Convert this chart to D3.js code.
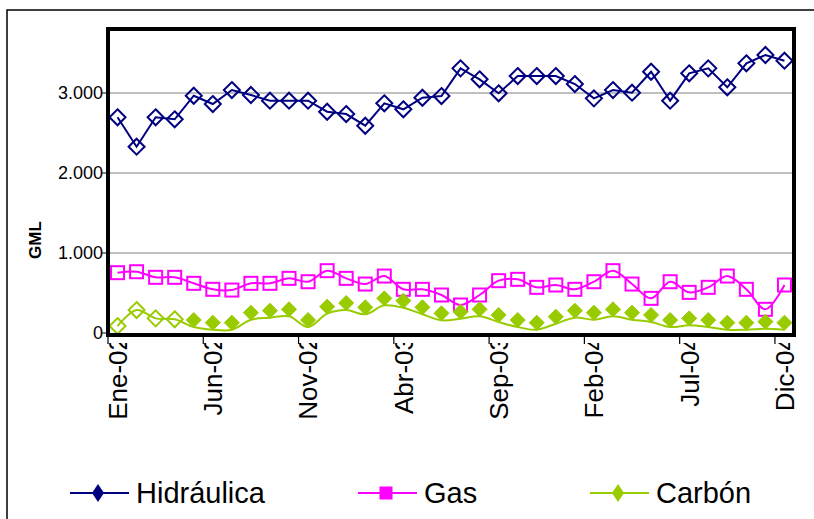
<!DOCTYPE html>
<html>
<head>
<meta charset="utf-8">
<script src="https://d3js.org/d3.v7.min.js"></script>
<style>
  body { margin: 0; background: #fff; }
  svg { display: block; font-family: "Liberation Sans", Arial, sans-serif; }
</style>
</head>
<body>
<div id="chart"></div>
<script>

var months = ["Ene-02","Feb-02","Mar-02","Abr-02","May-02","Jun-02","Jul-02","Ago-02","Sep-02","Oct-02","Nov-02","Dic-02",
              "Ene-03","Feb-03","Mar-03","Abr-03","May-03","Jun-03","Jul-03","Ago-03","Sep-03","Oct-03","Nov-03","Dic-03",
              "Ene-04","Feb-04","Mar-04","Abr-04","May-04","Jun-04","Jul-04","Ago-04","Sep-04","Oct-04","Nov-04","Dic-04"];

var hidraulica = [2696, 2329, 2696, 2671, 2966, 2862, 3037, 2975, 2904, 2904, 2904, 2766,
                  2737, 2591, 2871, 2796, 2941, 2962, 3308, 3171, 2996, 3212, 3212, 3212,
                  3112, 2933, 3037, 3004, 3266, 2904, 3246, 3308, 3071, 3371, 3475, 3404];

var gas = [754, 766, 696, 696, 621, 546, 537, 621, 621, 683, 641, 779,
           683, 612, 712, 546, 546, 475, 350, 475, 654, 671, 571, 600,
           546, 641, 779, 612, 433, 641, 508, 571, 712, 546, 296, 600];

var carbon = [87, 287, 183, 171, 162, 129, 129, 254, 279, 296, 162, 329,
              375, 321, 433, 404, 321, 246, 266, 296, 225, 162, 129, 204,
              279, 254, 296, 254, 225, 162, 183, 162, 129, 129, 142, 129];

var yTicks = [0, 1000, 2000, 3000];
var labelEvery = 5;

var names = ["Hidráulica", "Gas", "Carbón"];
var colors = ["#000080", "#FF00FF", "#99CC00"];

var width = 814, height = 519;

var svg = d3.select("#chart").append("svg")
            .attr("width", width)
            .attr("height", height);

// outer chart frame
svg.append("rect")
   .attr("x", 7).attr("y", 10)
   .attr("width", 830).attr("height", 530)
   .attr("fill", "none")
   .attr("stroke", "#000")
   .attr("stroke-width", 1.5);

var x = d3.scaleBand()
          .domain(months)
          .range([108, 794]);

var y = d3.scaleLinear()
          .domain([0, 3800])
          .range([333, 29]);

function cx(d, i) { return x(months[i]) + x.bandwidth() / 2; }

var fmt = d3.formatLocale({decimal: ",", thousands: ".", grouping: [3], currency: ["", ""]}).format(",d");

// gridlines
svg.append("g").selectAll("line")
   .data(yTicks.slice(1))
   .enter().append("line")
   .attr("x1", 110).attr("x2", 792)
   .attr("y1", function(d) { return y(d); })
   .attr("y2", function(d) { return y(d); })
   .attr("stroke", "#808080")
   .attr("stroke-width", 1);

// y axis ticks and labels
var yAxis = svg.append("g");
yAxis.selectAll("line")
     .data(yTicks)
     .enter().append("line")
     .attr("x1", 102).attr("x2", 108)
     .attr("y1", function(d) { return y(d); })
     .attr("y2", function(d) { return y(d); })
     .attr("stroke", "#000");
yAxis.selectAll("text")
     .data(yTicks)
     .enter().append("text")
     .attr("x", 103)
     .attr("y", function(d) { return y(d); })
     .attr("dy", "0.35em")
     .attr("text-anchor", "end")
     .style("font-size", "18px")
     .text(fmt);

svg.append("text")
   .attr("transform", "translate(41,240) rotate(-90)")
   .attr("text-anchor", "middle")
   .style("font-size", "17px")
   .style("font-weight", "bold")
   .text("GML");

// x axis ticks
var shown = months.filter(function(d, i) { return i % labelEvery === 0; });

svg.append("g").selectAll("line")
   .data(shown)
   .enter().append("line")
   .attr("x1", function(d) { return x(d); })
   .attr("x2", function(d) { return x(d); })
   .attr("y1", 336).attr("y2", 344)
   .attr("stroke", "#000")
   .attr("stroke-width", 1.2);

svg.append("clipPath").attr("id", "xlab-clip")
   .append("rect").attr("x", 0).attr("y", 343).attr("width", width).attr("height", 120);

svg.append("g")
   .attr("clip-path", "url(#xlab-clip)")
   .selectAll("text")
   .data(shown)
   .enter().append("text")
   .attr("transform", function(d) { return "translate(" + (x(d) + x.bandwidth() / 2) + ",336) rotate(-90)"; })
   .attr("text-anchor", "end")
   .attr("dy", "0.36em")
   .style("font-size", "26px")
   .text(function(d) { return d; });

// lines
var lineH = d3.line()
              .x(cx)
              .y(function(d) { return y(d); });

var lineG = d3.line()
              .x(cx)
              .y(function(d) { return y(d); })
              .curve(d3.curveCatmullRom);

// the carbon line runs a little below the filled markers in the original
var lineC = d3.line()
              .x(cx)
              .y(function(d, i) { return y(d) + (i >= 4 ? 7 : 0); })
              .curve(d3.curveCatmullRom);

svg.append("path").datum(hidraulica)
   .attr("d", lineH).attr("fill", "none")
   .attr("stroke", colors[0]).attr("stroke-width", 2);

svg.append("path").datum(gas)
   .attr("d", lineG).attr("fill", "none")
   .attr("stroke", colors[1]).attr("stroke-width", 2);

svg.append("path").datum(carbon)
   .attr("d", lineC).attr("fill", "none")
   .attr("stroke", colors[2]).attr("stroke-width", 2);

var diamond = "M0,-8L8,0L0,8L-8,0Z";
var diamondS = "M0,-7.5L7.5,0L0,7.5L-7.5,0Z";

// markers
svg.append("g").selectAll("path")
   .data(hidraulica)
   .enter().append("path")
   .attr("d", diamond)
   .attr("transform", function(d, i) { return "translate(" + cx(d, i) + "," + y(d) + ")"; })
   .attr("fill", "none")
   .attr("stroke", colors[0])
   .attr("stroke-width", 2);

svg.append("g").selectAll("rect")
   .data(gas)
   .enter().append("rect")
   .attr("x", function(d, i) { return cx(d, i) - 6.5; })
   .attr("y", function(d) { return y(d) - 6.5; })
   .attr("width", 13).attr("height", 13)
   .attr("fill", "none")
   .attr("stroke", colors[1])
   .attr("stroke-width", 2);

svg.append("g").selectAll("path")
   .data(carbon)
   .enter().append("path")
   .attr("d", function(d, i) { return i < 4 ? diamond : diamondS; })
   .attr("transform", function(d, i) { return "translate(" + cx(d, i) + "," + y(d) + ")"; })
   .attr("fill", function(d, i) { return i < 4 ? "none" : colors[2]; })
   .attr("stroke", colors[2])
   .attr("stroke-width", function(d, i) { return i < 4 ? 2 : 1; });

// plot frame
svg.append("rect")
   .attr("x", 108).attr("y", 29)
   .attr("width", 686).attr("height", 306)
   .attr("fill", "none")
   .attr("stroke", "#000")
   .attr("stroke-width", 4);

// legend
var legendX = [70, 358, 590];
var legend = svg.append("g").selectAll("g")
                .data(names)
                .enter().append("g")
                .attr("transform", function(d, i) { return "translate(" + legendX[i] + ",493)"; });

legend.append("line")
      .attr("x1", 0).attr("x2", 59)
      .attr("stroke", function(d, i) { return colors[i]; })
      .attr("stroke-width", 2);

legend.append("path")
      .attr("d", function(d, i) { return i === 1 ? "M-6.5,-6.5H6.5V6.5H-6.5Z" : "M0,-9L6,0L0,9L-6,0Z"; })
      .attr("transform", "translate(28,0)")
      .attr("fill", function(d, i) { return colors[i]; });

legend.append("text")
      .attr("x", 66)
      .attr("dy", "0.36em")
      .style("font-size", "29px")
      .text(function(d) { return d; });

</script>
</body>
</html>
